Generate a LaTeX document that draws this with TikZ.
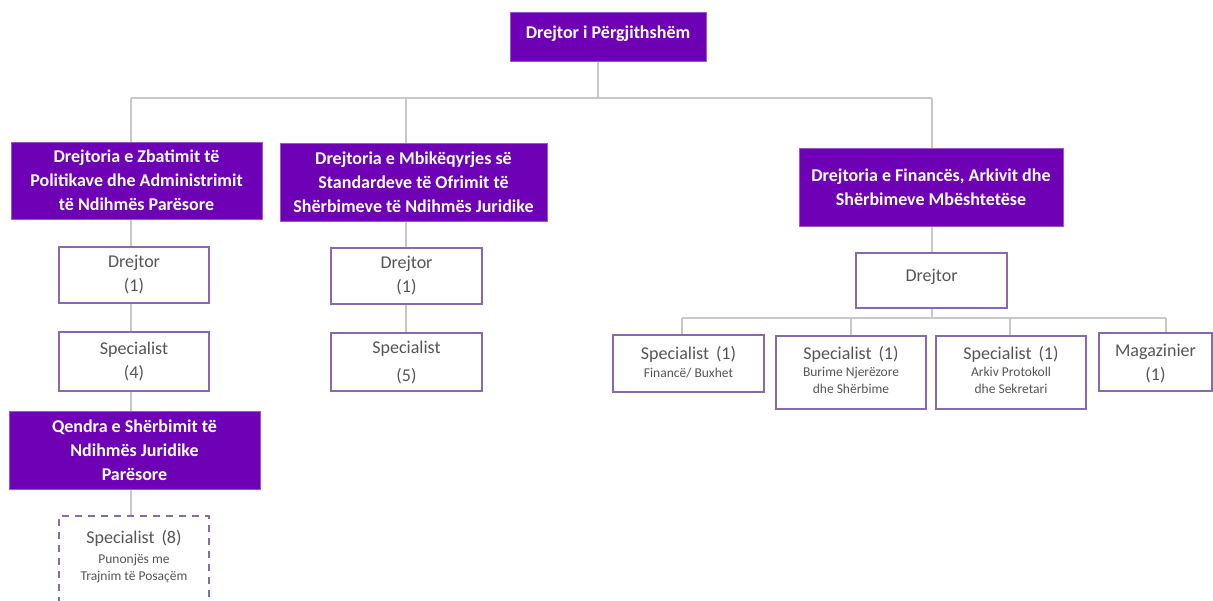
\documentclass[tikz,border=0pt]{standalone}
\usepackage{fontspec}
\setmainfont{Carlito}
\definecolor{hfill}{RGB}{110,0,182}
\definecolor{hedge}{RGB}{150,90,205}
\definecolor{bedge}{RGB}{135,105,175}
\definecolor{lgrey}{RGB}{200,200,200}
\definecolor{tgrey}{RGB}{85,85,85}
\newcommand{\bigtxt}{\fontsize{18}{24}\selectfont}
\newcommand{\smalltxt}{\fontsize{13.5}{17}\selectfont}
\tikzset{
  head/.style={fill=hfill, draw=hedge, line width=1pt, text=white,
    font=\bigtxt\bfseries, align=center, inner sep=0pt},
  post/.style={fill=white, draw=bedge, line width=1.4pt, text=tgrey,
    font=\bigtxt, align=center, inner sep=0pt},
  postdash/.style={post, dashed, dash pattern=on 7pt off 6pt},
  subpost/.style={post, font=\smalltxt},
  link/.style={draw=lgrey, line width=1.2pt},
  box/.style 2 args={minimum width=#1pt, minimum height=#2pt}
}
\begin{document}
\begin{tikzpicture}[x=1pt,y=-1pt]
\useasboundingbox (0,0) rectangle (1213,600);

% column and bus helpers
\coordinate (colA) at (131,0);
\coordinate (colB) at (406,0);
\coordinate (colC) at (932,0);
\coordinate (busTop) at (598,98);
\coordinate (busL) at (131,98);
\coordinate (busR) at (932,98);
\coordinate (subL) at (682,318);
\coordinate (subR) at (1166,318);
\coordinate (sub2) at (851,318);
\coordinate (sub3) at (1010,318);

% top level
\node[head, box={196}{49}] (top) at (608,36.5) {};
\node[text=white, font=\bigtxt\bfseries, inner sep=0pt] (topt) at (608,34) {Drejtor i Përgjithshëm};

% directorates
\node[head, box={251}{77}] (d1) at (136.5,180.5)
  {Drejtoria e Zbatimit të\\Politikave dhe Administrimit\\të Ndihmës Parësore};
\node[head, box={267}{78}] (d2) at (413.5,182)
  {Drejtoria e Mbikëqyrjes së\\Standardeve të Ofrimit të\\Shërbimeve të Ndihmës Juridike};
\node[head, box={264}{78}] (d3) at (931,187)
  {Drejtoria e Financës, Arkivit dhe\\Shërbimeve Mbështetëse};

% left column
\node[post, box={150}{56}] (dr1) at (134,275) {Drejtor\\(1)};
\node[post, box={150}{59}] (sp4) at (134,361.5) {Specialist\\(4)};
\node[head, box={251}{78}] (qen) at (134.5,450)
  {Qendra e Shërbimit të\\Ndihmës Juridike\\Parësore};
\node[postdash, box={150}{100}] (sp8) at (134,566) {};
\node[text=tgrey, font=\smalltxt, align=center, inner sep=0pt] (sp8t) at (134,557)
  {{\bigtxt Specialist\hspace{7pt}(8)}\\[3pt]Punonjës me\\Trajnim të Posaçëm};

% middle column
\node[post, box={151}{56}] (dr2) at (406.5,276) {Drejtor\\(1)};
\node[post, box={151}{58}] (sp5) at (406.5,362) {Specialist\\[4pt](5)};

% right column
\node[post, box={151}{55}] (dr3) at (931.5,280.5) {};
\node[text=tgrey, font=\bigtxt, inner sep=0pt] (dr3t) at (931.5,277) {Drejtor};

\node[subpost, box={151}{57}] (s1) at (688.5,363.5) {};
\node[text=tgrey, font=\smalltxt, align=center, inner sep=0pt] (s1t) at (688.5,362)
  {{\bigtxt Specialist\hspace{7pt}(1)}\\[1pt]Financë/ Buxhet};
\node[subpost, box={150}{73}] (s2) at (851,372.5) {};
\node[text=tgrey, font=\smalltxt, align=center, inner sep=0pt] (s2t) at (851,369.5)
  {{\bigtxt Specialist\hspace{7pt}(1)}\\Burime Njerëzore\\dhe Shërbime};
\node[subpost, box={150}{73}] (s3) at (1011,372.5) {};
\node[text=tgrey, font=\smalltxt, align=center, inner sep=0pt] (s3t) at (1011,369.5)
  {{\bigtxt Specialist\hspace{7pt}(1)}\\Arkiv Protokoll\\dhe Sekretari};
\node[post, box={113}{58}] (s4) at (1155.5,362) {};
\node[text=tgrey, font=\bigtxt, align=center, inner sep=0pt] (s4t) at (1155.5,364)
  {Magazinier\\(1)};

% top-level connectors
\draw[link] (top.south -| busTop) -- (busTop);
\draw[link] (busL) -- (busR);
\draw[link] (busL) -- (d1.north -| busL);
\draw[link] (busTop -| colB) -- (d2.north -| colB);
\draw[link] (busR) -- (d3.north -| busR);

% left chain
\draw[link] (d1.south -| colA) -- (dr1.north -| colA);
\draw[link] (dr1.south -| colA) -- (sp4.north -| colA);
\draw[link] (sp4.south -| colA) -- (qen.north -| colA);
\draw[link] (qen.south -| colA) -- (sp8.north -| colA);

% middle chain
\draw[link] (d2.south -| colB) -- (dr2.north -| colB);
\draw[link] (dr2.south -| colB) -- (sp5.north -| colB);

% right chain
\draw[link] (d3.south -| colC) -- (dr3.north -| colC);
\draw[link] (dr3.south -| colC) -- (subL -| colC);
\draw[link] (subL) -- (subR);
\draw[link] (subL) -- (s1.north -| subL);
\draw[link] (sub2) -- (s2.north -| sub2);
\draw[link] (sub3) -- (s3.north -| sub3);
\draw[link] (subR) -- (s4.north -| subR);
\end{tikzpicture}
\end{document}
